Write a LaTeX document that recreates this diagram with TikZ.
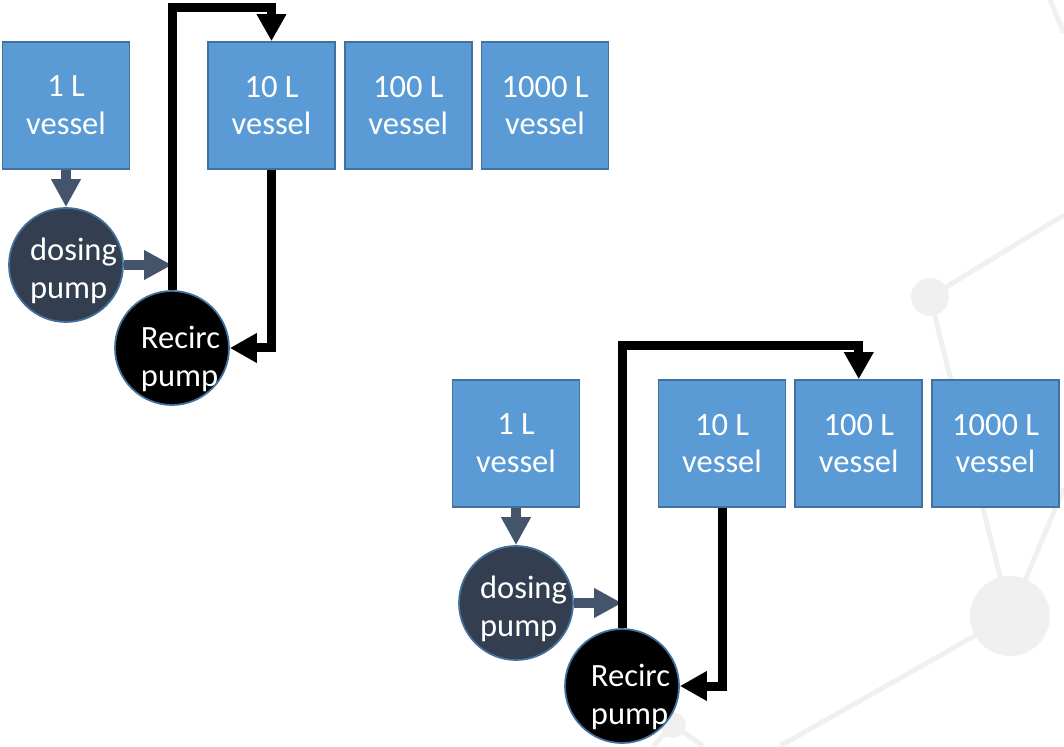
\documentclass[tikz,border=0pt]{standalone}
\usepackage{fontspec}
\setmainfont{Carlito}
\usetikzlibrary{arrows.meta, positioning}

\definecolor{vesselblue}{HTML}{5B9BD5}
\definecolor{vesselline}{HTML}{41719C}
\definecolor{dosefill}{HTML}{333F50}
\definecolor{feedgrey}{HTML}{44546A}
\definecolor{decogrey}{HTML}{F0F0F0}

\begin{document}
\begin{tikzpicture}[
  every node/.style={font=\fontsize{18.5}{21.5}\selectfont},
  vessel/.style={rectangle, draw=vesselline, fill=vesselblue, line width=1pt,
    minimum width=2.54cm, minimum height=2.54cm, align=center, text=white,
    inner sep=0pt},
  pump/.style={circle, draw=vesselline, line width=1pt, minimum size=2.28cm,
    inner sep=0pt},
  pumplabel/.style={align=left, text=white, inner sep=0pt},
  feed/.style={draw=feedgrey, line width=0.2cm,
    -{Triangle[length=0.56cm, width=0.56cm]}},
  recirc/.style={draw=black, line width=0.18cm,
    -{Triangle[length=0.54cm, width=0.56cm]}},
  deco/.style={draw=decogrey, line width=0.1cm},
]

% Page frame
\useasboundingbox (0,0) rectangle (21.28,14.92);

% Background network
\draw[deco] (18.60,8.98) -- (21.28,10.62);
\draw[deco] (21.00,14.92) -- (21.28,14.26);
\draw[deco] (18.60,8.98) -- (20.20,2.60);
\draw[deco] (20.20,2.60) -- (21.28,5.16);
\draw[deco] (20.20,2.60) -- (15.60,0);
\draw[deco] (13.46,0.42) -- (13.06,0);
\draw[deco] (13.46,0.42) -- (14.06,0);
\fill[decogrey] (18.60,8.98) circle (0.38);
\fill[decogrey] (20.20,2.60) circle (0.80);
\fill[decogrey] (13.46,0.42) circle (0.26);

% Setup 1: recirculation into the 10 L vessel
\node[vessel] (v1a) at (1.32,12.81) {1 L\\vessel};
\node[vessel] (v10a) at (5.43,12.81) {10 L\\vessel};
\node[vessel, right=0.16cm of v10a] (v100a) {100 L\\vessel};
\node[vessel, right=0.16cm of v100a] (v1000a) {1000 L\\vessel};

\node[pump, fill=dosefill] (dose1) at (1.32,9.62) {};
\node[pumplabel] (dose1txt) at ([shift={(0.15,-0.12)}]dose1.center) {dosing\\pump};
\node[pump, fill=black] (rec1) at (3.44,7.96) {};
\node[pumplabel] (rec1txt) at ([shift={(0.17,-0.22)}]rec1.center) {Recirc\\pump};

\coordinate (top1) at (3.44,14.76);
\coordinate (join1) at (rec1.north |- dose1.east);

\draw[feed] (v1a.south) -- (dose1.north);
\draw[feed] (dose1.east) -- (join1);
\draw[recirc] (rec1.north) -- (top1) -| (v10a.north);
\draw[recirc] (v10a.south) |- (rec1.east);

% Setup 2: recirculation into the 100 L vessel
\node[vessel] (v1b) at (10.32,6.05) {1 L\\vessel};
\node[vessel] (v10b) at (14.44,6.05) {10 L\\vessel};
\node[vessel, right=0.16cm of v10b] (v100b) {100 L\\vessel};
\node[vessel, right=0.16cm of v100b] (v1000b) {1000 L\\vessel};

\node[pump, fill=dosefill] (dose2) at (10.32,2.86) {};
\node[pumplabel] (dose2txt) at ([shift={(0.15,-0.12)}]dose2.center) {dosing\\pump};
\node[pump, fill=black] (rec2) at (12.44,1.20) {};
\node[pumplabel] (rec2txt) at ([shift={(0.17,-0.22)}]rec2.center) {Recirc\\pump};

\coordinate (top2) at (12.44,8.00);
\coordinate (join2) at (rec2.north |- dose2.east);

\draw[feed] (v1b.south) -- (dose2.north);
\draw[feed] (dose2.east) -- (join2);
\draw[recirc] (rec2.north) -- (top2) -| (v100b.north);
\draw[recirc] (v10b.south) |- (rec2.east);

\end{tikzpicture}
\end{document}
